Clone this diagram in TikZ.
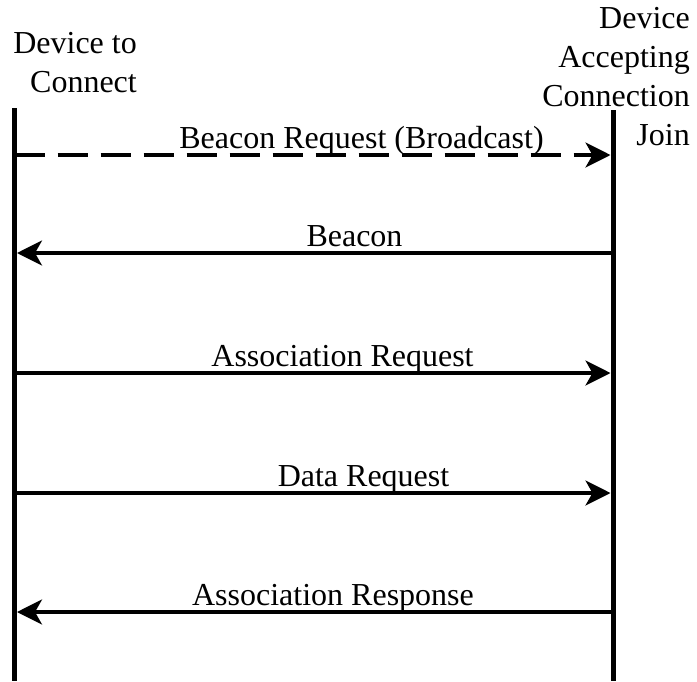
\documentclass[tikz,border=0pt]{standalone}
\usepackage{fontspec}
\setmainfont{Liberation Serif}
\usetikzlibrary{arrows.meta}
\tikzset{
  lifeline/.style={line width=5pt},
  msg/.style={line width=3.5pt, -{Stealth[length=25pt,width=25pt,inset=7pt]}, shorten >=2.5pt},
  dashmsg/.style={msg, dash pattern=on 30pt off 13pt},
  lbl/.style={inner sep=0pt, anchor=base, font=\fontsize{32}{39}\selectfont},
  hdr/.style={inner sep=0pt, anchor=base east, font=\fontsize{32}{39}\selectfont}
}
\begin{document}
\begin{tikzpicture}[x=1pt,y=-1pt]
\useasboundingbox (0,0) rectangle (697,681);
% lifelines
\coordinate (LT) at (14.5,108);
\coordinate (LB) at (14.5,681);
\coordinate (RT) at (613,110);
\coordinate (RB) at (613,681);
\draw[lifeline] (LT) -- (LB);
\draw[lifeline] (RT) -- (RB);
% headers
\node[hdr] (l1) at (137,53) {Device to};
\node[hdr] (l2) at (137,92) {Connect};
\node[hdr] (r1) at (690,28) {Device};
\node[hdr] (r2) at (690,67) {Accepting};
\node[hdr] (r3) at (690,106) {Connection};
\node[hdr] (r4) at (690,145) {Join};
% message endpoints
\coordinate (L1) at (14.5,155); \coordinate (R1) at (613,155);
\coordinate (L2) at (14.5,253); \coordinate (R2) at (613,253);
\coordinate (L3) at (14.5,373); \coordinate (R3) at (613,373);
\coordinate (L4) at (14.5,493); \coordinate (R4) at (613,493);
\coordinate (L5) at (14.5,612); \coordinate (R5) at (613,612);
\draw[dashmsg] (L1) -- (R1);
\draw[msg] (R2) -- (L2);
\draw[msg] (L3) -- (R3);
\draw[msg] (L4) -- (R4);
\draw[msg] (R5) -- (L5);
% labels
\node[lbl] (m1) at (361.5,148) {Beacon Request (Broadcast)};
\node[lbl] (m2) at (354.5,246) {Beacon};
\node[lbl] (m3) at (342.5,366) {Association Request};
\node[lbl] (m4) at (363.5,486) {Data Request};
\node[lbl] (m5) at (333,605) {Association Response};
\end{tikzpicture}
\end{document}
